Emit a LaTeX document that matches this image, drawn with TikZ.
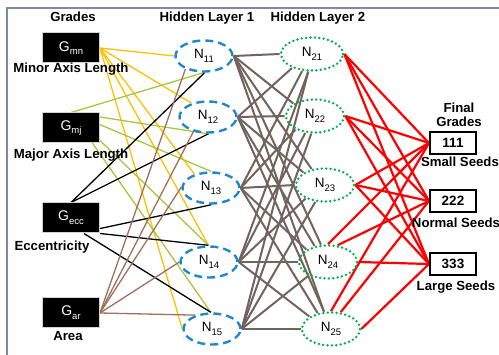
\documentclass[tikz,border=0pt]{standalone}
\usepackage{fontspec}
\setmainfont{Liberation Sans}
\usetikzlibrary{shapes.geometric,backgrounds}
\definecolor{framecol}{HTML}{7D89A6}
\definecolor{amber}{HTML}{FFC000}
\definecolor{lime}{HTML}{A9C63F}
\definecolor{clay}{HTML}{A0705C}
\definecolor{taupe}{HTML}{72635C}
\definecolor{dashblue}{HTML}{1F88CC}
\definecolor{dotgreen}{HTML}{00B050}
\newcommand\lowsub[1]{\raisebox{-0.5ex}{\fontsize{9.5}{9.5}\selectfont #1}}

\begin{document}
\begin{tikzpicture}[x=1pt,y=-1pt,
  inbox/.style={fill=black, draw=gray!35, line width=1pt, minimum width=57pt,
    minimum height=30pt, inner sep=0pt, text=white, font=\fontsize{14}{14}\selectfont},
  hidA/.style={ellipse, draw=dashblue, line width=2.4pt, dash pattern=on 8pt off 5pt,
    minimum width=57pt, minimum height=31pt, inner sep=0pt, font=\fontsize{13.5}{13.5}\selectfont},
  hidB/.style={ellipse, draw=dotgreen, line width=2.7pt, line cap=round,
    dash pattern=on 0pt off 4.4pt, minimum width=58pt, minimum height=33pt,
    inner sep=0pt, font=\fontsize{13.5}{13.5}\selectfont},
  outbox/.style={draw=black, line width=2pt, fill=white, minimum width=46pt,
    minimum height=22pt, inner sep=0pt, font=\bfseries\fontsize{13.5}{13.5}\selectfont},
  lbl/.style={font=\bfseries\fontsize{13.2}{13.2}\selectfont, inner sep=0pt},
  wire/.style={line width=1.3pt},
  link/.style={taupe, line width=2pt},
  outlink/.style={red, line width=2.2pt}]

\useasboundingbox (0,0) rectangle (499,355);

% frame edges
\draw[framecol, line width=2pt] (7,356) -- (7,8) -- (500,8);

% headers
\node[lbl] (hG)  at (73,17)  {Grades};
\node[lbl] (hH1) at (207,18) {Hidden Layer 1};
\node[lbl] (hH2) at (318,18) {Hidden Layer 2};
\node[lbl] (hF1) at (459,108) {Final};
\node[lbl] (hF2) at (459,122) {Grades};

% input grades
\node[inbox] (Gmn)  at (71,48)  {G\lowsub{mn}};
\node[inbox] (Gmj)  at (71,128) {G\lowsub{mj}};
\node[inbox] (Gecc) at (71,218) {G\lowsub{ecc}};
\node[inbox] (Gar)  at (71,313) {G\lowsub{ar}};
\node[lbl] (tmn)  at (71,69)  {Minor Axis Length};
\node[lbl] (tmj)  at (71,155) {Major Axis Length};
\node[lbl] (tecc) at (52,247) {Eccentricity};
\node[lbl] (tar)  at (68,336) {Area};

% hidden layer 1
\node[hidA] (N1) at (204,56)  {N\lowsub{11}};
\node[hidA] (N2) at (208,117) {N\lowsub{12}};
\node[hidA] (N3) at (211,188) {N\lowsub{13}};
\node[hidA] (N4) at (209,262) {N\lowsub{14}};
\node[hidA] (N5) at (212,329) {N\lowsub{15}};

% hidden layer 2
\node[hidB, minimum width=62pt] (M1) at (312,54) {N\lowsub{21}};
\node[hidB] (M2) at (315,116) {N\lowsub{22}};
\node[hidB] (M3) at (325,185) {N\lowsub{23}};
\node[hidB] (M4) at (328,262) {N\lowsub{24}};
\node[hidB] (M5) at (331,329) {N\lowsub{25}};

% final grades
\node[outbox] (O1) at (453,143) {111};
\node[outbox] (O2) at (453,201) {222};
\node[outbox] (O3) at (453,264) {333};
\node[lbl] (tO1) at (460,162) {Small Seeds};
\node[lbl] (tO2) at (456,223) {Normal Seeds};
\node[lbl] (tO3) at (456,287) {Large Seeds};

\begin{pgfonlayer}{background}
% minor axis length
\draw[wire, amber] (Gmn.east) -- (N1.west);
\draw[wire, amber] (Gmn.east) -- (N2.140);
\draw[wire, amber] (Gmn.east) -- (N3.140);
\draw[wire, amber] (Gmn.east) -- (N4.92);
\draw[wire, amber] (Gmn.east) -- (N5.west);
% major axis length
\draw[wire, lime] (Gmj.north) -- (N1.268);
\draw[wire, lime] (Gmj.north) -- (N2.268);
\draw[wire, lime] (Gmj.north) -- (N3.90);
\draw[wire, lime] (Gmj.north) -- (N4.92);
\draw[wire, lime] (Gmj.north) -- (N5.94);
% eccentricity
\draw[wire, black] (Gecc.north) -- (N1.272);
\draw[wire, black] (Gecc.north) -- (N2.272);
\draw[wire, black] (Gecc.-20) -- (N3.272);
\draw[wire, black] (Gecc.south east) -- (N4.92);
\draw[wire, black] (Gecc.-50) -- (N5.94);
% area
\draw[wire, clay] (Gar.east) -- (N1.215);
\draw[wire, clay] (Gar.east) -- (N2.225);
\draw[wire, clay] (Gar.east) -- (N3.178);
\draw[wire, clay] (Gar.east) -- (N4.west);
\draw[wire, clay] (Gar.east) -- (N5.140);

% hidden layer 1 to hidden layer 2
\foreach \i in {1,...,5}{
  \foreach \j in {1,...,5}{
    \pgfmathtruncatemacro\d{\i-\j}
    \pgfmathsetmacro\ang{\d==0 ? 180 : (\d==1 ? 215 : (\d==2 ? 240 : (\d>2 ? 258 :
      (\d==-1 ? 150 : (\d==-2 ? 130 : 112)))))}
    \draw[link] (N\i.east) -- (M\j.\ang);
  }
}

% hidden layer 2 to final grades
\foreach \j in {1,2,3}{
  \draw[outlink] (M\j.east) -- (O1.west);
  \draw[outlink] (M\j.east) -- (O2.west);
  \draw[outlink] (M\j.east) -- (O3.west);
}
\draw[outlink] (M4.north) -- (O1.west);
\draw[outlink] (M4.60) -- (O2.west);
\draw[outlink] (M4.east) -- (O3.west);
\draw[outlink] (M5.north) -- (O1.west);
\draw[outlink] (M5.60) -- (O2.west);
\draw[outlink] (M5.east) -- (O3.west);
\end{pgfonlayer}
\end{tikzpicture}
\end{document}
